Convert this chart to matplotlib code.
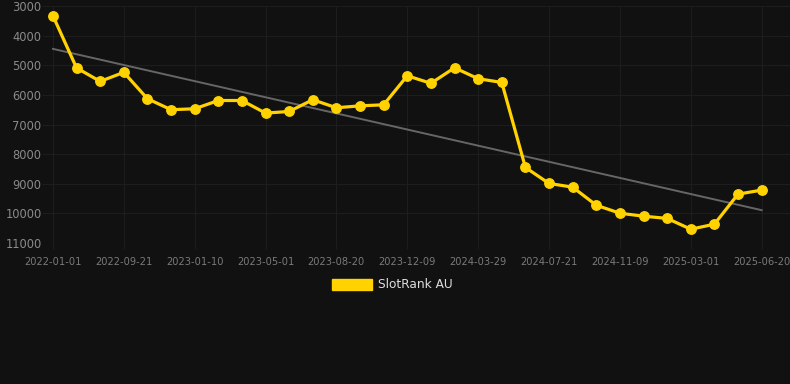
import numpy as np
import matplotlib.pyplot as plt
from matplotlib.patches import Patch

# SlotRank AU rank over time (lower is better, axis inverted)
rank_au = [3330, 5090, 5545, 5240, 6130, 6500, 6470, 6190, 6190, 6615,
           6560, 6165, 6435, 6370, 6335, 5355, 5610, 5085, 5455, 5580,
           8450, 8990, 9115, 9725, 9995, 10095, 10170, 10535, 10365, 9350,
           9215]
tick_labels = ["2022-01-01", "2022-09-21", "2023-01-10", "2023-05-01",
               "2023-08-20", "2023-12-09", "2024-03-29", "2024-07-21",
               "2024-11-09", "2025-03-01", "2025-06-20"]
y_ticks = [3000, 4000, 5000, 6000, 7000, 8000, 9000, 10000, 11000]

bg = "#111111"
yellow = "#FFD200"

x = np.arange(len(rank_au))

fig = plt.figure(figsize=(7.9, 3.84), dpi=100, facecolor=bg)
ax = fig.add_axes([43 / 790, 1 - 243 / 384, 1 - 43 / 790, (243 - 6) / 384])
ax.set_facecolor(bg)

# trend line (least squares fit)
k, b = np.polyfit(x, rank_au, 1)
ax.plot(x, k * x + b, color="#666666", linewidth=1.4, zorder=2)

ax.plot(x, rank_au, color=yellow, linewidth=2.3, marker="o",
        markersize=6.8, zorder=3)

ax.set_ylim(11000, 3000)
ax.set_xlim(-0.42, 31.2)
ax.set_yticks(y_ticks)
ax.set_xticks(x[::3])
ax.set_xticklabels(tick_labels)
ax.grid(True, color="#1d1d1d", linewidth=0.8)
ax.set_axisbelow(True)
for s in ax.spines.values():
    s.set_visible(False)
ax.tick_params(axis="y", length=0, pad=1, labelsize=8.3, labelcolor="#8a8a8a")
ax.tick_params(axis="x", length=4, color="#1d1d1d", pad=6, labelsize=7.1,
               labelcolor="#7a7a7a")

fig.legend(handles=[Patch(facecolor=yellow, edgecolor=yellow, label="SlotRank AU")],
           loc="center", bbox_to_anchor=(0.497, 0.258), frameon=False,
           fontsize=8.7, labelcolor="#dddddd", handlelength=3.3,
           handleheight=1.05, handletextpad=0.5)

fig.savefig("out.png", dpi=100, facecolor=bg)
